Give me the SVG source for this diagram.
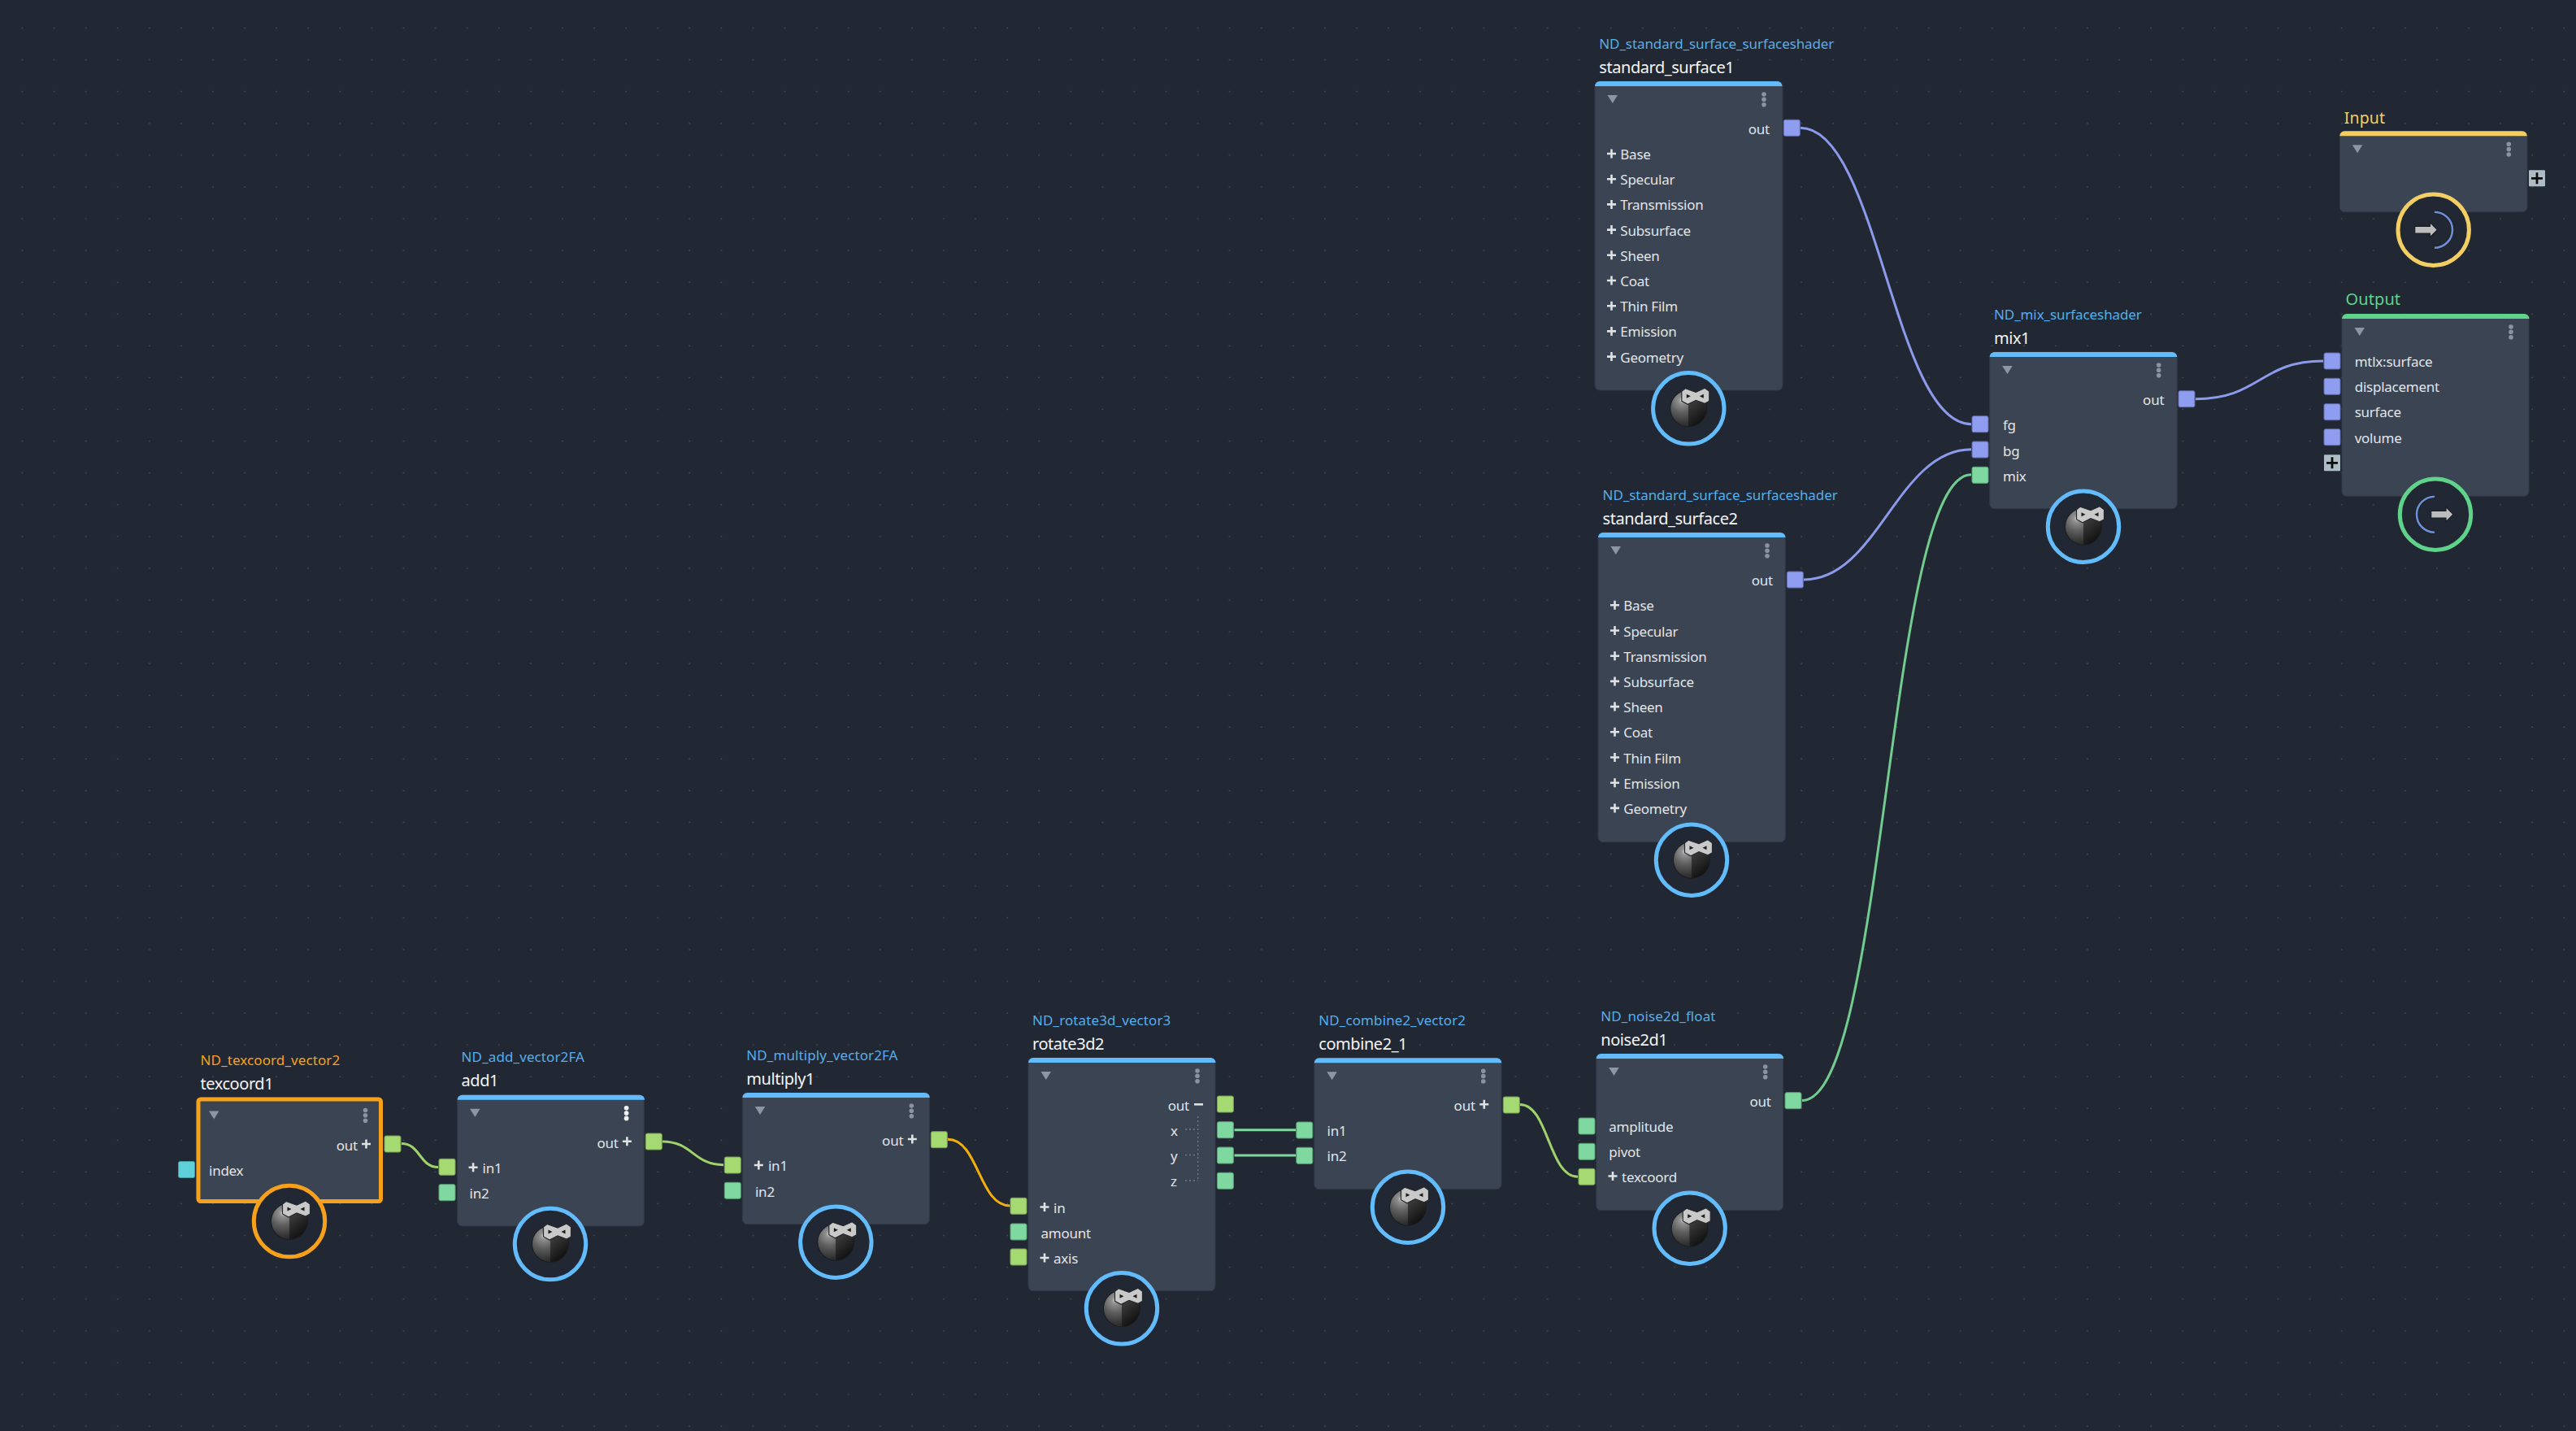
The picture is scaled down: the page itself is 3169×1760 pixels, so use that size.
<svg xmlns="http://www.w3.org/2000/svg" width="3169" height="1760" viewBox="0 0 3169 1760">
<style>
text{font-family:"Noto Sans","Open Sans",sans-serif;white-space:pre}
.t{font-size:17px;letter-spacing:.1px;fill:#55aeee}
.tn{letter-spacing:-.1px}
.n{font-size:20px;letter-spacing:-.45px;fill:#f4f5f6}
.r{font-size:17px;letter-spacing:-.25px;fill:#e2e5e8}
.e{text-anchor:end}
.b{fill:#3b4452;stroke:#313844;stroke-width:1}
.ring{fill:#222833;stroke-width:5}
.blue{stroke:#62bbfb}
.vio{fill:#8f9df0;stroke:#5f6ba8}
.grn{fill:#7fd8a0;stroke:#5a9f75}
.lim{fill:#a5d972;stroke:#789f50}
.cyn{fill:#5dd0da;stroke:#449aa2}
.c{fill:none;stroke-width:3;stroke-linecap:butt}
</style>
<defs>
<pattern id="grid" width="39.085" height="39.08" patternUnits="userSpaceOnUse">
<rect x="27" y="34" width="1" height="1" fill="#767d87"/>
</pattern>
<radialGradient id="sL" gradientUnits="userSpaceOnUse" cx="-8" cy="-10" r="30">
<stop offset="0" stop-color="#dcdcdc"/><stop offset=".13" stop-color="#939393"/><stop offset=".5" stop-color="#5f5f5f"/><stop offset="1" stop-color="#2f2f2f"/>
</radialGradient>
<linearGradient id="sR" x1="0" y1="0" x2=".4" y2="1">
<stop offset="0" stop-color="#505050"/><stop offset="1" stop-color="#111"/>
</linearGradient>
<rect id="port" width="20" height="20" rx="2" stroke-width="1"/>
<path id="stripe" d="M0 6a6 6 0 0 1 6-6H224.500a6 6 0 0 1 6 6z"/>
<g id="hdr">
<path d="M15.500 17H28L21.800 27z" fill="#8d97a3"/>
<g fill="#8a94a0"><circle cx="208" cy="16" r="2.800"/><circle cx="208" cy="22.300" r="2.800"/><circle cx="208" cy="28.700" r="2.800"/></g>
</g>
<path id="plus" d="M-5.500 0H5.500M0-5.500V5.500" fill="none" stroke="#dfe1e3" stroke-width="2.600"/>
<g id="ball">
<circle r="23" fill="#1a1c20"/>
<path d="M0-22A22 22 0 0 0 0 22z" fill="url(#sL)"/>
<path d="M0-22A22 22 0 0 1 0 22z" fill="url(#sR)"/>
<path d="M-8.500-21L-4-24.500L9-20L20-25L25.500-21V-9L20-6L9-10L-1-5L-8.500-9z" fill="#c9c9c9" stroke="#26282c" stroke-width="1.200"/>
<path d="M-2.500-17.500L2.500-15L-2.500-12.500zM18.500-17.500L13.500-15L18.500-12.500z" fill="#1c1c1c"/>
</g>
<g id="inIcon">
<path d="M1.300-22A22 22 0 0 1 1.300 22" fill="none" stroke="#1b1e24" stroke-width="4.500"/>
<path d="M1.300-22A22 22 0 0 1 1.300 22" fill="none" stroke="#6d8fd6" stroke-width="2.600"/>
<path d="M-23-4.300H-4.300V-9L4.700 0L-4.300 9V4.300H-23z" fill="#bdbdbd" stroke="#1b1e24" stroke-width="1.200"/>
</g>
<g id="outIcon">
<path d="M-1-22A22 22 0 0 0-1 22" fill="none" stroke="#1b1e24" stroke-width="4.500"/>
<path d="M-1-22A22 22 0 0 0-1 22" fill="none" stroke="#6d8fd6" stroke-width="2.600"/>
<path d="M-5.300-4.300H13V-9L22 0L13 9V4.300H-5.300z" fill="#bdbdbd" stroke="#1b1e24" stroke-width="1.200"/>
</g>
<g id="addBtn">
<rect width="20" height="20" rx="1" fill="#aebcc6"/>
<path d="M3 10H17M10 3V17" stroke="#0c0c0c" stroke-width="2.800" fill="none"/>
</g>
</defs>
<rect width="3169" height="1760" fill="#222833"/>
<rect width="3169" height="1760" fill="url(#grid)"/>

<g id="connectors">
<path class="c" stroke="#9fd26a" d="M494 1406.500C517 1406.500 516 1435.500 539 1435.500"/>
<path class="c" stroke="#9fd26a" d="M815 1404C852 1404 853 1432.700 890 1432.700"/>
<path class="c" stroke="#f2ae0e" d="M1166 1401.300C1204 1401.300 1204 1483 1242.500 1483"/>
<path class="c" stroke="#7ed8a0" d="M1518.500 1389.700H1594"/>
<path class="c" stroke="#7ed8a0" d="M1518.500 1421H1594"/>
<path class="c" stroke="#9fd26a" d="M1870 1358.500C1905 1358.500 1905 1447.300 1941 1447.300"/>
<path class="c" stroke="#8b9aeb" d="M2215 157.300C2310 157.300 2330 521.700 2425 521.700"/>
<path class="c" stroke="#8b9aeb" d="M2219 713C2310 713 2334 552.700 2425 552.700"/>
<path class="c" stroke="#72cc8f" d="M2217 1353.500C2320 1353.500 2322 583.700 2425 583.700"/>
<path class="c" stroke="#8b9aeb" d="M2701 490.700C2780 490.700 2780 444 2858 444"/>
</g>

<g id="texcoord1" transform="translate(241.500 1349.500)">
<rect class="b" width="229.500" height="130.500" rx="5" style="stroke:none"/>
<rect x="2.500" y="2.500" width="224.500" height="125.500" rx="3" fill="none" stroke="#f7a01c" stroke-width="5"/>
<use href="#hdr"/>
<text class="t" x="5" y="-39.500" style="fill:#f7a01c">ND_texcoord_vector2</text>
<text class="n" x="5" y="-9.800">texcoord1</text>
<text class="r e" x="198.500" y="65.500">out</text><use href="#plus" x="209" y="57.500"/>
<text class="r" x="15.500" y="96.200">index</text>
<use href="#port" class="lim" x="231.500" y="47.500"/>
<use href="#port" class="cyn" x="-22" y="79"/>
<circle class="ring" cx="114.500" cy="152.500" r="43.700" stroke="#f7a01c"/>
<use href="#ball" x="114.500" y="152.500"/>
</g>

<g id="add1" transform="translate(562.600 1346.700)">
<rect class="b" width="229.700" height="161.300" rx="6"/>
<use href="#stripe" fill="#62bbfb"/><use href="#hdr"/>
<circle cx="208" cy="16" r="2.800" fill="#f0f0f0"/><circle cx="208" cy="22.300" r="2.800" fill="#f0f0f0"/><circle cx="208" cy="28.700" r="2.800" fill="#f0f0f0"/>
<text class="t" x="5" y="-40.500">ND_add_vector2FA</text>
<text class="n" x="5" y="-10.300">add1</text>
<text class="r e" x="198" y="65">out</text><use href="#plus" x="208.800" y="57"/>
<use href="#plus" x="19.500" y="89"/><text class="r" x="31" y="96">in1</text>
<text class="r" x="15" y="127.300">in2</text>
<use href="#port" class="lim" x="231.700" y="47.300"/>
<use href="#port" class="lim" x="-22.600" y="78.600"/>
<use href="#port" class="grn" x="-22.600" y="110"/>
<circle class="ring blue" cx="114.400" cy="183.300" r="43.700"/>
<use href="#ball" x="114.400" y="183.300"/>
</g>

<g id="multiply1" transform="translate(913.300 1344)">
<rect class="b" width="230" height="161.700" rx="6"/>
<use href="#stripe" fill="#62bbfb"/><use href="#hdr"/>
<text class="t" x="5" y="-40">ND_multiply_vector2FA</text>
<text class="n" x="5" y="-10.300">multiply1</text>
<text class="r e" x="198" y="65">out</text><use href="#plus" x="209" y="57"/>
<use href="#plus" x="20" y="89"/><text class="r" x="31.700" y="96">in1</text>
<text class="r" x="15.700" y="127.700">in2</text>
<use href="#port" class="lim" x="232" y="47.700"/>
<use href="#port" class="lim" x="-22" y="79"/>
<use href="#port" class="grn" x="-22" y="110.300"/>
<circle class="ring blue" cx="115" cy="183.700" r="43.700"/>
<use href="#ball" x="115" y="183.700"/>
</g>

<g id="rotate3d2" transform="translate(1265 1301)">
<rect class="b" width="230" height="286.700" rx="6"/>
<use href="#stripe" fill="#62bbfb"/><use href="#hdr"/>
<text class="t" x="5" y="-40">ND_rotate3d_vector3</text>
<text class="n" x="5" y="-9.800">rotate3d2</text>
<text class="r e" x="198" y="65">out</text>
<path d="M204 57.300H215" stroke="#dfe1e3" stroke-width="2.600"/>
<path d="M208.700 72V151.700M193 88H208.700M193 119.700H208.700M193 151H208.700" fill="none" stroke="#707a88" stroke-width="1.300" stroke-dasharray="2 3"/>
<text class="r" x="175" y="95.700">x</text>
<text class="r" x="175" y="127">y</text>
<text class="r" x="175" y="158">z</text>
<use href="#plus" x="20" y="183.500"/><text class="r" x="31" y="190.700">in</text>
<text class="r" x="15.500" y="221.700">amount</text>
<use href="#plus" x="20" y="246"/><text class="r" x="31" y="253">axis</text>
<use href="#port" class="lim" x="232.400" y="47"/>
<use href="#port" class="grn" x="232.400" y="78.700"/>
<use href="#port" class="grn" x="232.400" y="110"/>
<use href="#port" class="grn" x="232.400" y="141.300"/>
<use href="#port" class="lim" x="-22" y="172.300"/>
<use href="#port" class="grn" x="-22" y="204"/>
<use href="#port" class="lim" x="-22" y="235"/>
<circle class="ring blue" cx="115" cy="308.300" r="43.700"/>
<use href="#ball" x="115" y="308.300"/>
</g>

<g id="combine2_1" transform="translate(1616.800 1301.300)">
<rect class="b" width="230.200" height="161.400" rx="6"/>
<use href="#stripe" fill="#62bbfb"/><use href="#hdr"/>
<text class="t" x="5.500" y="-40">ND_combine2_vector2</text>
<text class="n" x="5.500" y="-10.100">combine2_1</text>
<text class="r e" x="198" y="65">out</text><use href="#plus" x="209" y="57"/>
<text class="r" x="15.800" y="95.500">in1</text>
<text class="r" x="15.800" y="126.800">in2</text>
<use href="#port" class="lim" x="232.500" y="47.700"/>
<use href="#port" class="grn" x="-22" y="78.700"/>
<use href="#port" class="grn" x="-22" y="110"/>
<circle class="ring blue" cx="115.200" cy="183.400" r="43.700"/>
<use href="#ball" x="115.200" y="183.400"/>
</g>

<g id="noise2d1" transform="translate(1963.700 1296)">
<rect class="b" width="230" height="192.700" rx="6"/>
<use href="#stripe" fill="#62bbfb"/><use href="#hdr"/>
<text class="t" x="5.600" y="-40">ND_noise2d_float</text>
<text class="n" x="5.600" y="-9.800">noise2d1</text>
<text class="r e" x="215" y="65">out</text>
<text class="r" x="15.600" y="95.700">amplitude</text>
<text class="r" x="15.600" y="127">pivot</text>
<use href="#plus" x="20.300" y="150.500"/><text class="r" x="31.300" y="158">texcoord</text>
<use href="#port" class="grn" x="232.300" y="47.700"/>
<use href="#port" class="grn" x="-21.700" y="79"/>
<use href="#port" class="grn" x="-21.700" y="110.300"/>
<use href="#port" class="lim" x="-21.700" y="141.300"/>
<circle class="ring blue" cx="115" cy="214.700" r="43.700"/>
<use href="#ball" x="115" y="214.700"/>
</g>

<g id="standard_surface1" transform="translate(1962 100)">
<rect class="b" width="231" height="380" rx="6"/>
<use href="#stripe" fill="#62bbfb"/><use href="#hdr"/>
<text class="t tn" x="5.300" y="-40">ND_standard_surface_surfaceshader</text>
<text class="n" x="5.300" y="-10.300">standard_surface1</text>
<text class="r e" x="215" y="65">out</text>
<use href="#plus" x="20.500" y="89"/><text class="r" x="31.300" y="96">Base</text>
<use href="#plus" x="20.500" y="120.200"/><text class="r" x="31.300" y="127.200">Specular</text>
<use href="#plus" x="20.500" y="151.400"/><text class="r" x="31.300" y="158.400">Transmission</text>
<use href="#plus" x="20.500" y="182.600"/><text class="r" x="31.300" y="189.600">Subsurface</text>
<use href="#plus" x="20.500" y="213.800"/><text class="r" x="31.300" y="220.800">Sheen</text>
<use href="#plus" x="20.500" y="245"/><text class="r" x="31.300" y="252">Coat</text>
<use href="#plus" x="20.500" y="276.200"/><text class="r" x="31.300" y="283.200">Thin Film</text>
<use href="#plus" x="20.500" y="307.400"/><text class="r" x="31.300" y="314.400">Emission</text>
<use href="#plus" x="20.500" y="338.600"/><text class="r" x="31.300" y="345.600">Geometry</text>
<use href="#port" class="vio" x="232.300" y="47.300"/>
<circle class="ring blue" cx="115.300" cy="402.300" r="43.700"/>
<use href="#ball" x="115.300" y="402.300"/>
</g>

<g id="standard_surface2" transform="translate(1966 655)">
<rect class="b" width="230.300" height="380.700" rx="6"/>
<use href="#stripe" fill="#62bbfb"/><use href="#hdr"/>
<text class="t tn" x="5.600" y="-39.700">ND_standard_surface_surfaceshader</text>
<text class="n" x="5.600" y="-10">standard_surface2</text>
<text class="r e" x="215" y="65">out</text>
<use href="#plus" x="20.500" y="89.300"/><text class="r" x="31.300" y="96.300">Base</text>
<use href="#plus" x="20.500" y="120.500"/><text class="r" x="31.300" y="127.500">Specular</text>
<use href="#plus" x="20.500" y="151.700"/><text class="r" x="31.300" y="158.700">Transmission</text>
<use href="#plus" x="20.500" y="182.900"/><text class="r" x="31.300" y="189.900">Subsurface</text>
<use href="#plus" x="20.500" y="214.100"/><text class="r" x="31.300" y="221.100">Sheen</text>
<use href="#plus" x="20.500" y="245.300"/><text class="r" x="31.300" y="252.300">Coat</text>
<use href="#plus" x="20.500" y="276.500"/><text class="r" x="31.300" y="283.500">Thin Film</text>
<use href="#plus" x="20.500" y="307.700"/><text class="r" x="31.300" y="314.700">Emission</text>
<use href="#plus" x="20.500" y="338.900"/><text class="r" x="31.300" y="345.900">Geometry</text>
<use href="#port" class="vio" x="232.300" y="48"/>
<circle class="ring blue" cx="115" cy="402.700" r="43.700"/>
<use href="#ball" x="115" y="402.700"/>
</g>

<g id="mix1" transform="translate(2447.700 433)">
<rect class="b" width="230.600" height="192.700" rx="6"/>
<use href="#stripe" fill="#62bbfb"/><use href="#hdr"/>
<text class="t tn" x="5.300" y="-40">ND_mix_surfaceshader</text>
<text class="n" x="5.300" y="-9.800">mix1</text>
<text class="r e" x="214.600" y="65">out</text>
<text class="r" x="16.300" y="96">fg</text>
<text class="r" x="16.300" y="127.500">bg</text>
<text class="r" x="16.300" y="158.700">mix</text>
<use href="#port" class="vio" x="232.300" y="47.700"/>
<use href="#port" class="vio" x="-21.700" y="78.700"/>
<use href="#port" class="vio" x="-21.700" y="110"/>
<use href="#port" class="grn" x="-21.700" y="141.300"/>
<circle class="ring blue" cx="115.300" cy="214.700" r="43.700"/>
<use href="#ball" x="115.300" y="214.700"/>
</g>

<g id="Input" transform="translate(2878.300 161.300)">
<rect class="b" width="230.700" height="99.400" rx="6"/>
<use href="#stripe" fill="#f3ce63"/><use href="#hdr"/>
<text class="t" x="5.500" y="-9.600" style="font-size:19.500px;fill:#f3ce63">Input</text>
<use href="#addBtn" x="232.700" y="48"/>
<circle class="ring" cx="115.400" cy="121.400" r="43.700" stroke="#f3ce63"/>
<use href="#inIcon" x="115.400" y="121.400"/>
</g>

<g id="Output" transform="translate(2881 386)">
<rect class="b" width="230" height="224.300" rx="6"/>
<use href="#stripe" fill="#5fd38a"/><use href="#hdr"/>
<text class="t" x="4.500" y="-10.700" style="font-size:20px;fill:#5fd38a">Output</text>
<text class="r" x="15.700" y="64.700">mtlx:surface</text>
<text class="r" x="15.700" y="96.300">displacement</text>
<text class="r" x="15.700" y="127.300">surface</text>
<text class="r" x="15.700" y="159">volume</text>
<use href="#port" class="vio" x="-22" y="48"/>
<use href="#port" class="vio" x="-22" y="79.300"/>
<use href="#port" class="vio" x="-22" y="110.700"/>
<use href="#port" class="vio" x="-22" y="141.700"/>
<use href="#addBtn" x="-22" y="173.300"/>
<circle class="ring" cx="115" cy="246.700" r="43.700" stroke="#5fd38a"/>
<use href="#outIcon" x="115" y="246.700"/>
</g>
</svg>
